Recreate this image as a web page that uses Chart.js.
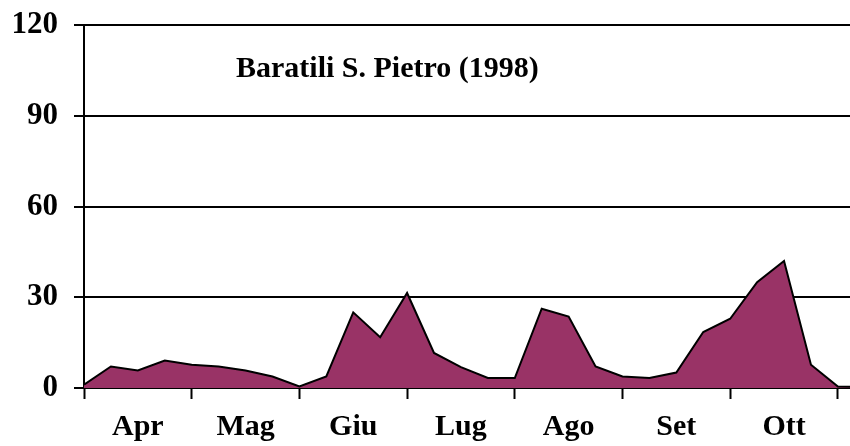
<!DOCTYPE html>
<html>
<head>
<meta charset="utf-8">
<script src="https://cdn.jsdelivr.net/npm/chart.js@4.4.1/dist/chart.umd.min.js"></script>
<style>
html,body{margin:0;padding:0;background:#fff;}
#wrap{width:850px;height:446px;position:relative;}
</style>
</head>
<body>
<div id="wrap"><canvas id="c" width="850" height="446"></canvas></div>
<script>
const chartTitle = 'Baratili S. Pietro (1998)';
const months = ['Apr', 'Mag', 'Giu', 'Lug', 'Ago', 'Set', 'Ott'];
const weekIndex = [0,1,2,3,4,5,6,7,8,9,10,11,12,13,14,15,16,17,18,19,20,21,22,23,24,25,26,27,28,29];
const captures = [1.1,7.1,5.8,9.1,7.7,7.1,5.8,3.8,0.5,3.8,25.0,16.8,31.4,11.6,6.9,3.3,3.3,26.2,23.6,7.1,3.8,3.3,5.1,18.5,22.9,35.0,42.0,7.7,0.5,0.3];
const yTicks = [0, 30, 60, 90, 120];

const serif = '"Liberation Serif", "Times New Roman", serif';

const titlePlugin = {
  id: 'innerTitle',
  afterDatasetsDraw(chart) {
    const {ctx, chartArea} = chart;
    ctx.save();
    ctx.font = 'bold 30px ' + serif;
    ctx.fillStyle = '#000';
    ctx.textAlign = 'left';
    ctx.textBaseline = 'alphabetic';
    ctx.fillText(chartTitle, chartArea.left + 152, chartArea.top + 52);
    ctx.restore();
  }
};

new Chart(document.getElementById('c'), {
  type: 'line',
  data: {
    datasets: [{
      data: weekIndex.map((x, i) => ({x: x, y: captures[i]})),
      fill: 'origin',
      backgroundColor: '#993366',
      borderColor: '#000',
      borderWidth: 2,
      pointRadius: 0,
      tension: 0
    }]
  },
  options: {
    responsive: false,
    animation: false,
    layout: {padding: {left: 0, right: 0, top: 25, bottom: 0}},
    plugins: {legend: {display: false}, tooltip: {enabled: false}},
    scales: {
      x: {
        type: 'linear',
        min: 0,
        max: 28.45,
        afterBuildTicks(scale) {
          const t = [];
          for (let v = 0; v <= 28; v += 2) t.push({value: v});
          scale.ticks = t;
        },
        afterFit(scale) { scale.height = 58; },
        ticks: {
          autoSkip: false,
          maxRotation: 0,
          padding: 10,
          color: '#000',
          font: {family: serif, size: 30, weight: 'bold'},
          callback: (v) => (v % 4 === 2 ? months[(v - 2) / 4] : '')
        },
        grid: {
          drawOnChartArea: false,
          drawTicks: true,
          tickLength: 11,
          tickWidth: 2,
          tickColor: (ctx) => (ctx.tick && ctx.tick.value % 4 === 0 ? '#000' : 'rgba(0,0,0,0)')
        },
        border: {display: true, color: '#000', width: 2}
      },
      y: {
        min: 0,
        max: 120,
        afterBuildTicks(scale) {
          scale.ticks = yTicks.map(v => ({value: v}));
        },
        afterFit(scale) {
          scale.width = 84;
          scale.paddingTop = 0;
          scale.paddingBottom = 0;
        },
        ticks: {
          padding: 16,
          color: '#000',
          font: {family: serif, size: 31, weight: 'bold'}
        },
        grid: {
          color: '#000',
          lineWidth: 2,
          drawTicks: true,
          tickLength: 10
        },
        border: {display: true, color: '#000', width: 2}
      }
    }
  },
  plugins: [titlePlugin]
});
</script>
</body>
</html>
